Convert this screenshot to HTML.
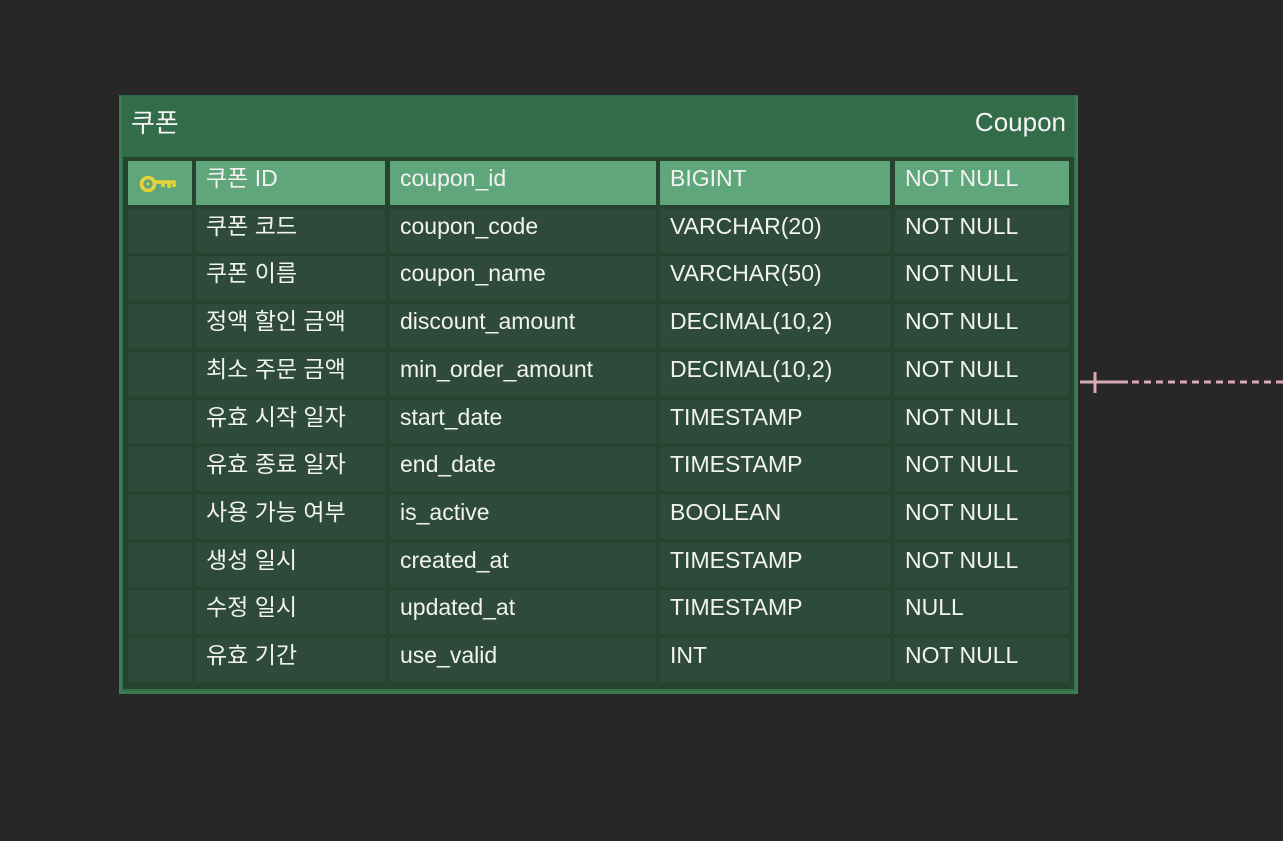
<!DOCTYPE html>
<html><head><meta charset="utf-8"><style>
body{margin:0;width:1283px;height:841px;background:#272727;overflow:hidden;position:relative;font-family:"Liberation Sans","Noto Sans CJK KR",sans-serif;}
.box{position:absolute;left:119px;top:95px;width:953px;height:593px;background:#336c49;border:3px solid #3b7c51;border-top-color:#336c49;}
.inner{position:absolute;left:123px;top:157px;width:951px;height:532px;background:#26442f;}
.c{position:absolute;height:44px;background:#2e4a3b;color:#f2f2f2;font-size:23px;line-height:34px;padding-left:10px;box-sizing:border-box;white-space:nowrap;}
.pk .c{background:#5fa77b;}
.t{position:absolute;color:#f5f5f5;font-size:26px;}
</style></head><body>
<div class="box"></div>
<div class="inner"></div>
<div class="t" style="left:131px;top:103px">쿠폰</div>
<div class="t" style="right:217px;top:107px">Coupon</div>
<div id="rows"></div>
<svg style="position:absolute;left:0;top:0" width="1283" height="841">
<line x1="1080" y1="382" x2="1128" y2="382" stroke="#d9a9b4" stroke-width="3"/>
<line x1="1095" y1="372" x2="1095" y2="393" stroke="#d9a9b4" stroke-width="3"/>
<line x1="1132" y1="382" x2="1283" y2="382" stroke="#d9a9b4" stroke-width="3" stroke-dasharray="7,5"/>
</svg>
<script>
var d=[["쿠폰 ID","coupon_id","BIGINT","NOT NULL"],["쿠폰 코드","coupon_code","VARCHAR(20)","NOT NULL"],["쿠폰 이름","coupon_name","VARCHAR(50)","NOT NULL"],["정액 할인 금액","discount_amount","DECIMAL(10,2)","NOT NULL"],["최소 주문 금액","min_order_amount","DECIMAL(10,2)","NOT NULL"],["유효 시작 일자","start_date","TIMESTAMP","NOT NULL"],["유효 종료 일자","end_date","TIMESTAMP","NOT NULL"],["사용 가능 여부","is_active","BOOLEAN","NOT NULL"],["생성 일시","created_at","TIMESTAMP","NOT NULL"],["수정 일시","updated_at","TIMESTAMP","NULL"],["유효 기간","use_valid","INT","NOT NULL"]];
var cols=[[128,64],[196,189],[390,266],[660,230],[895,174]];
var h="";
d.forEach(function(r,i){var top=161+Math.round(i*47.7);h+='<div class="'+(i==0?'pk':'')+'">';
cols.forEach(function(c,j){var txt=j==0?'':r[j-1];
if(j==0&&i==0)txt='<svg width="44" height="30" style="position:absolute;left:9px;top:9px"><circle cx="11" cy="14" r="6.5" fill="none" stroke="#e6d23a" stroke-width="3.5"/><circle cx="11" cy="14" r="1.5" fill="#e6d23a"/><path d="M18 12 H37 V17 M32 12 V18 M26 12 V17" fill="none" stroke="#e6d23a" stroke-width="3.5"/></svg>';
h+='<div class="c" style="left:'+c[0]+'px;top:'+top+'px;width:'+c[1]+'px">'+txt+'</div>';});h+='</div>';});
document.getElementById("rows").innerHTML=h;
</script>
</body></html>
